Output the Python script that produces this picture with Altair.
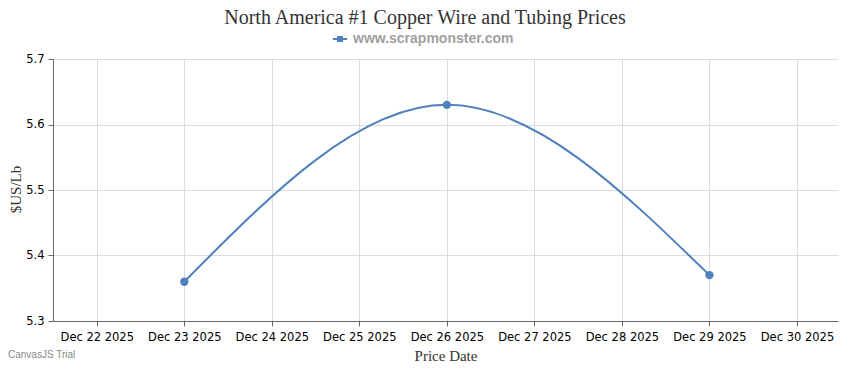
import altair as alt
import pandas as pd

# ---- data ----
dates = ["2025-12-23", "2025-12-26", "2025-12-29"]
prices = [5.36, 5.63, 5.37]
series_name = ["www.scrapmonster.com"] * 3
tick_days = [22, 23, 24, 25, 26, 27, 28, 29, 30]
y_ticks = [5.3, 5.4, 5.5, 5.6, 5.7]
chart_title = "North America #1 Copper Wire and Tubing Prices"

df = pd.DataFrame({"date": dates, "price": prices, "series": series_name})

BLUE = "#4F81BC"
SERIF = "Liberation Serif"
SANS = "DejaVu Sans"

x_values = [alt.DateTime(year=2025, month=12, date=d, utc=True) for d in tick_days]

x_enc = alt.X(
    "date:T",
    scale=alt.Scale(
        type="utc",
        domain=[
            alt.DateTime(year=2025, month=12, date=21, hours=12, utc=True),
            alt.DateTime(year=2025, month=12, date=30, hours=11, minutes=15, utc=True),
        ],
    ),
    axis=alt.Axis(
        values=x_values,
        labelExpr="utcFormat(datum.value, '%b %d %Y')",
        title="Price Date",
        titleFont=SERIF,
        titleFontSize=15,
        titleFontWeight="normal",
        titleColor="#333333",
        titleY=34,
        titleBaseline="middle",
        labelFont=SANS,
        labelFontSize=11.5,
        labelColor="#000000",
        labelPadding=5,
        tickSize=5,
        tickColor="#666666",
        domainColor="#666666",
        gridColor="#dcdcdc",
        labelOverlap=False,
    ),
)

y_enc = alt.Y(
    "price:Q",
    scale=alt.Scale(domain=[5.3, 5.7], nice=False, zero=False),
    axis=alt.Axis(
        values=y_ticks,
        format=".1f",
        title="$US/Lb",
        titleFont=SERIF,
        titleFontSize=15,
        titleFontWeight="normal",
        titleColor="#333333",
        titleAngle=270,
        titleX=-38,
        titleY=130,
        titleAlign="center",
        titleBaseline="middle",
        labelFont=SANS,
        labelFontSize=11.5,
        labelColor="#000000",
        labelPadding=4,
        tickSize=5,
        tickColor="#666666",
        domainColor="#666666",
        gridColor="#dcdcdc",
    ),
)

color_enc = alt.Color(
    "series:N",
    scale=alt.Scale(range=[BLUE]),
    legend=alt.Legend(
        title=None,
        orient="none",
        legendX=280,
        legendY=-27,
        symbolType="M-1,-0.13H1V0.13H-1Z M-0.42,-0.42H0.42V0.42H-0.42Z",
        symbolSize=196,
        symbolFillColor=BLUE,
        symbolStrokeColor=BLUE,
        symbolStrokeWidth=0,
        labelFont="Liberation Sans",
        labelFontSize=14,
        labelFontWeight="bold",
        labelColor="#a0a0a0",
        labelOffset=6,
        labelLimit=400,
    ),
)

line = alt.Chart(df).mark_line(
    interpolate="monotone", strokeWidth=2, color=BLUE
).encode(x=x_enc, y=y_enc, color=color_enc)

points = alt.Chart(df).mark_point(
    filled=True, size=70, opacity=1, color=BLUE
).encode(x=x_enc, y=y_enc, color=color_enc)

trial = alt.Chart(pd.DataFrame({"t": ["CanvasJS Trial"]})).mark_text(
    font="Liberation Sans", fontSize=10, color="#888888", align="left", baseline="middle"
).encode(text="t:N", x=alt.value(-45), y=alt.value(296))

title_text = alt.Chart(pd.DataFrame({"t": [chart_title]})).mark_text(
    font=SERIF, fontSize=20, color="#333333", align="center", baseline="alphabetic"
).encode(text="t:N", x=alt.value(372), y=alt.value(-35))

chart = (
    alt.layer(line, points, trial, title_text)
    .properties(
        width=785,
        height=262,
        autosize=alt.AutoSizeParams(type="none"),
        padding={"left": 45, "top": 51, "right": 4, "bottom": 41},
    )
    .configure_view(stroke=None)
    .configure_axis(grid=True)
)

chart.save("out.html", embed_options={"renderer": "svg", "actions": False})
